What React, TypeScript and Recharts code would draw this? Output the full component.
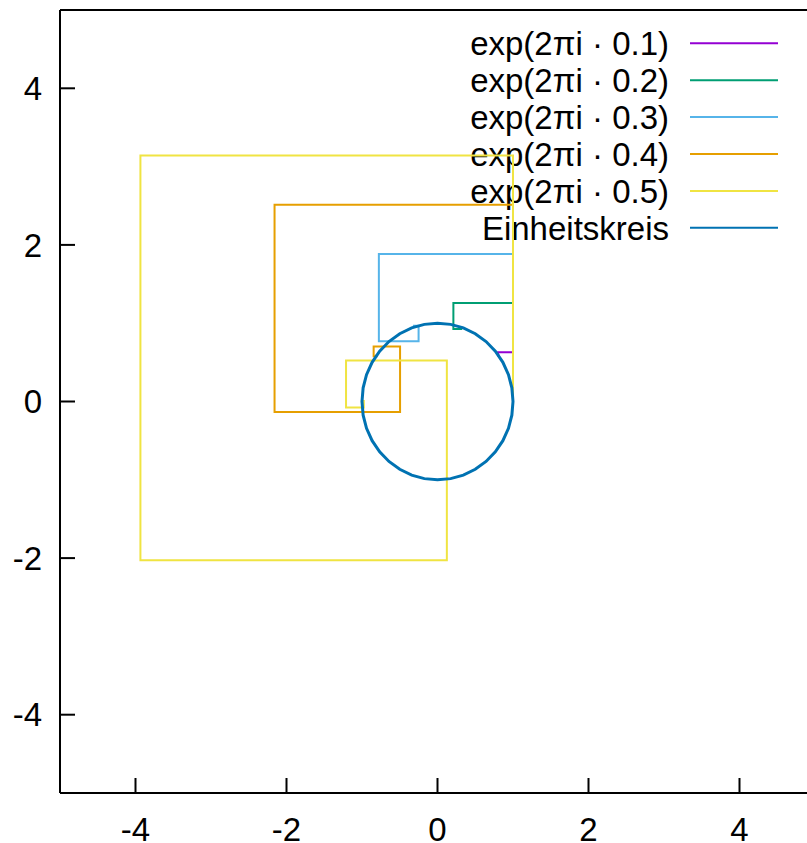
import { ScatterChart, Scatter, XAxis, YAxis, Legend } from 'recharts';

const FONT = '"Liberation Sans", Arial, sans-serif';

const axisTicks = [-4, -2, 0, 2, 4];

// Partialsummen der Exponentialreihe, exp(2πi · t)
const sum01 = [
  { x: 1, y: 0 }, { x: 1, y: 0.6283 }, { x: 0.8026, y: 0.6283 }, { x: 0.8026, y: 0.587 },
  { x: 0.8091, y: 0.587 }, { x: 0.8091, y: 0.5878 }, { x: 0.809, y: 0.5878 },
];
const sum02 = [
  { x: 1, y: 0 }, { x: 1, y: 1.2566 }, { x: 0.2104, y: 1.2566 }, { x: 0.2104, y: 0.9259 },
  { x: 0.3143, y: 0.9259 }, { x: 0.3143, y: 0.952 }, { x: 0.3088, y: 0.952 }, { x: 0.3088, y: 0.951 },
  { x: 0.309, y: 0.951 },
];
const sum03 = [
  { x: 1, y: 0 }, { x: 1, y: 1.885 }, { x: -0.7766, y: 1.885 }, { x: -0.7766, y: 0.7687 },
  { x: -0.2505, y: 0.7687 }, { x: -0.2505, y: 0.967 }, { x: -0.3128, y: 0.967 }, { x: -0.3128, y: 0.9502 },
  { x: -0.3089, y: 0.9502 }, { x: -0.3089, y: 0.9511 }, { x: -0.309, y: 0.9511 },
];
const sum04 = [
  { x: 1, y: 0 }, { x: 1, y: 2.5133 }, { x: -2.1583, y: 2.5133 }, { x: -2.1583, y: -0.1325 },
  { x: -0.4958, y: -0.1325 }, { x: -0.4958, y: 0.7032 }, { x: -0.8458, y: 0.7032 }, { x: -0.8458, y: 0.5775 },
  { x: -0.8063, y: 0.5775 }, { x: -0.8063, y: 0.5885 }, { x: -0.8091, y: 0.5885 }, { x: -0.8091, y: 0.5879 },
  { x: -0.809, y: 0.5879 },
];
const sum05 = [
  { x: 1, y: 0 }, { x: 1, y: 3.1416 }, { x: -3.9348, y: 3.1416 }, { x: -3.9348, y: -2.0261 },
  { x: 0.1239, y: -2.0261 }, { x: 0.1239, y: 0.5241 }, { x: -1.2114, y: 0.5241 }, { x: -1.2114, y: -0.0752 },
  { x: -0.976, y: -0.0752 }, { x: -0.976, y: 0.007 }, { x: -1.0018, y: 0.007 }, { x: -1.0018, y: -0.0004 },
  { x: -0.9999, y: -0.0004 }, { x: -0.9999, y: 0.0001 }, { x: -1, y: 0.0001 },
];
const unitCircle = [
  { x: 1, y: 0 }, { x: 0.985, y: 0.174 }, { x: 0.94, y: 0.342 }, { x: 0.866, y: 0.5 },
  { x: 0.766, y: 0.643 }, { x: 0.643, y: 0.766 }, { x: 0.5, y: 0.866 }, { x: 0.342, y: 0.94 },
  { x: 0.174, y: 0.985 }, { x: 0, y: 1 }, { x: -0.174, y: 0.985 }, { x: -0.342, y: 0.94 },
  { x: -0.5, y: 0.866 }, { x: -0.643, y: 0.766 }, { x: -0.766, y: 0.643 }, { x: -0.866, y: 0.5 },
  { x: -0.94, y: 0.342 }, { x: -0.985, y: 0.174 }, { x: -1, y: 0 }, { x: -0.985, y: -0.174 },
  { x: -0.94, y: -0.342 }, { x: -0.866, y: -0.5 }, { x: -0.766, y: -0.643 }, { x: -0.643, y: -0.766 },
  { x: -0.5, y: -0.866 }, { x: -0.342, y: -0.94 }, { x: -0.174, y: -0.985 }, { x: 0, y: -1 },
  { x: 0.174, y: -0.985 }, { x: 0.342, y: -0.94 }, { x: 0.5, y: -0.866 }, { x: 0.643, y: -0.766 },
  { x: 0.766, y: -0.643 }, { x: 0.866, y: -0.5 }, { x: 0.94, y: -0.342 }, { x: 0.985, y: -0.174 },
  { x: 1, y: 0 },
];

const labels = [
  'exp(2πi · 0.1)', 'exp(2πi · 0.2)', 'exp(2πi · 0.3)',
  'exp(2πi · 0.4)', 'exp(2πi · 0.5)', 'Einheitskreis',
];
const colors = ['#9400d3', '#009e73', '#56b4e9', '#e69f00', '#f0e442', '#0072b2'];
const datasets = [sum01, sum02, sum03, sum04, sum05, unitCircle];

const series = labels.map((name, i) => ({
  name,
  color: colors[i],
  data: datasets[i],
  width: i === 5 ? 3 : 2,
}));

const noDot = () => <g />;

function KeyBox() {
  return (
    <svg width={807} height={250} style={{ display: 'block' }}>
      {series.map((s, i) => {
        const y = 43.3 + i * 36.9;
        return (
          <g key={s.name}>
            <text x={669} y={y + 11.8} textAnchor="end" fontSize={33} fontFamily={FONT} fill="#000">
              {s.name}
            </text>
            <line x1={690} x2={778} y1={y} y2={y} stroke={s.color} strokeWidth={2} />
          </g>
        );
      })}
    </svg>
  );
}

const tickStyle = { fill: '#000', fontSize: 33, fontFamily: FONT };
const frame = { stroke: '#000', strokeWidth: 2 };

export default function App() {
  return (
    <div
      style={{
        position: 'fixed', left: 0, top: 0, width: 807, height: 843,
        overflow: 'hidden', background: '#fff', fontFamily: FONT,
      }}
    >
      <ScatterChart width={830} height={843} margin={{ top: 0, right: 0, bottom: 0, left: 0 }}>
        <XAxis
          xAxisId="bottom" orientation="bottom" type="number" dataKey="x"
          domain={[-5, 5]} ticks={axisTicks} allowDataOverflow height={50}
          tick={tickStyle} tickSize={-15} tickMargin={40} axisLine={frame} tickLine={frame}
        />
        <XAxis
          xAxisId="top" orientation="top" type="number" dataKey="x"
          domain={[-5, 5]} ticks={axisTicks} allowDataOverflow height={10}
          tick={false} tickSize={-15} axisLine={frame} tickLine={frame}
        />
        <YAxis
          yAxisId="left" orientation="left" type="number" dataKey="y"
          domain={[-5, 5]} ticks={axisTicks} allowDataOverflow width={60}
          tick={tickStyle} tickSize={-15} tickMargin={33} axisLine={frame} tickLine={frame}
        />
        <YAxis
          yAxisId="right" orientation="right" type="number" dataKey="y"
          domain={[-5, 5]} ticks={axisTicks} allowDataOverflow width={15}
          tick={false} tickSize={-15} axisLine={frame} tickLine={frame}
        />
        <Legend
          layout="horizontal" verticalAlign="middle" align="center"
          wrapperStyle={{ position: 'absolute', left: 0, top: 0, width: 807, height: 250, zIndex: -1 }}
          content={() => <KeyBox />}
        />
        {series.map((s) => (
          <Scatter
            key={s.name}
            name={s.name}
            data={s.data}
            xAxisId="bottom"
            yAxisId="left"
            fill={s.color}
            line={{ stroke: s.color, strokeWidth: s.width }}
            lineType="joint"
            shape={noDot}
            isAnimationActive={false}
          />
        ))}
      </ScatterChart>
    </div>
  );
}
